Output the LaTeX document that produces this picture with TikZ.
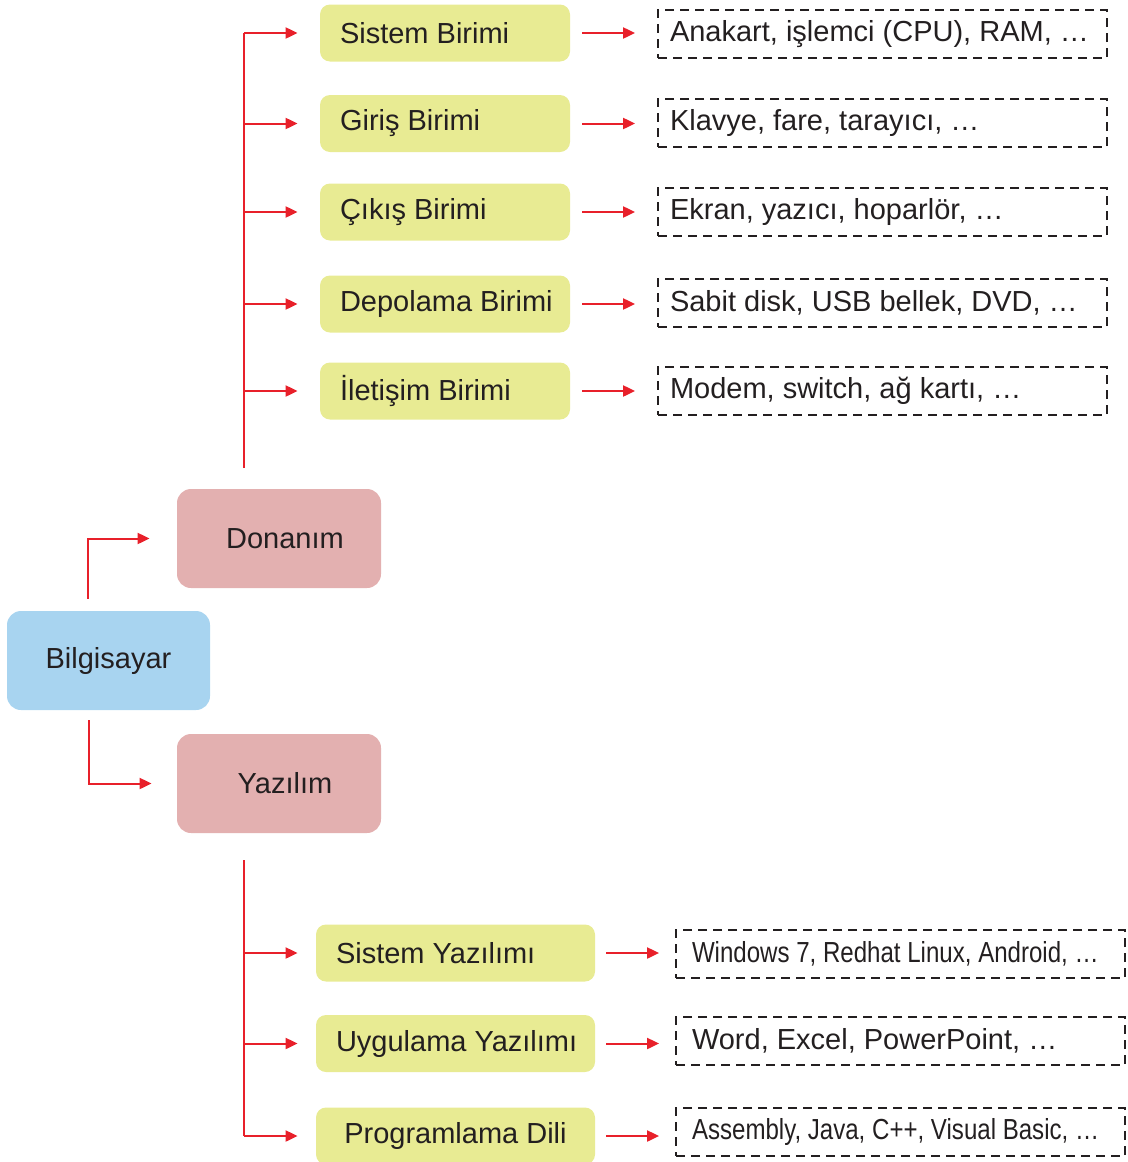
\documentclass[tikz,border=0pt]{standalone}
\usepackage{fontspec}
\setmainfont{Liberation Sans}
\newfontfamily\narrowfont[FakeStretch=0.83]{Liberation Sans}
\usepackage{xcolor}
\usetikzlibrary{arrows.meta,positioning,calc}
\definecolor{boxblue}{HTML}{A8D4F0}
\definecolor{boxpink}{HTML}{E3B0B0}
\definecolor{boxgreen}{HTML}{E8EB93}
\definecolor{arrred}{HTML}{E8202A}
\definecolor{txtdark}{HTML}{231F20}
% fixed-width, left-aligned line (no wrapping)
\newcommand{\linetxt}[2]{\makebox[#1][l]{#2}}
\tikzset{
  rootbox/.style={fill=boxblue, rounded corners=7pt, minimum width=101.5pt, minimum height=49.5pt, inner sep=0pt, text=txtdark},
  mainbox/.style={fill=boxpink, rounded corners=7pt, minimum width=102pt, minimum height=49.5pt, inner sep=0pt, text=txtdark, execute at begin node={\hspace*{6pt}}},
  unitbox/.style={fill=boxgreen, rounded corners=5pt, minimum width=125pt, minimum height=28.5pt, inner xsep=10pt, inner ysep=0pt, text=txtdark},
  softbox/.style={unitbox, minimum width=139.5pt},
  examplebox/.style={draw=txtdark, line width=0.9pt, dash pattern=on 4.5pt off 3pt, minimum width=224.5pt, minimum height=24pt, inner xsep=6pt, inner ysep=0pt, text=txtdark},
  softexbox/.style={examplebox, inner xsep=8pt},
  redline/.style={draw=arrred, line width=1pt},
  redarrow/.style={redline, -{Triangle[length=6pt,width=5.5pt]}}
}
\begin{document}
\begin{tikzpicture}[x=0.5pt,y=-0.5pt,font=\fontsize{14.5}{17}\selectfont]
\useasboundingbox (0,0) rectangle (1128,1162);
\clip (0,0) rectangle (1128,1162);
% main nodes
\node[rootbox] (bil) at (108.5,660.5) {Bilgisayar};
\node[mainbox] (don) at (279,538.5) {Donanım};
\node[mainbox] (yaz) at (279,783.5) {Yazılım};
% hardware units
\node[unitbox] (sb) at (445,33) {\linetxt{105pt}{Sistem Birimi}};
\node[unitbox] (gb) at (445,123.5) {\linetxt{105pt}{Giriş Birimi}};
\node[unitbox] (cb) at (445,212) {\linetxt{105pt}{Çıkış Birimi}};
\node[unitbox] (db) at (445,304) {\linetxt{105pt}{Depolama Birimi}};
\node[unitbox] (ib) at (445,391) {\linetxt{105pt}{İletişim Birimi}};
\node[examplebox] (sbx) at (882.5,34) {\linetxt{212.5pt}{Anakart, işlemci (CPU), RAM, …}};
\node[examplebox] (gbx) at (882.5,123) {\linetxt{212.5pt}{Klavye, fare, tarayıcı, …}};
\node[examplebox] (cbx) at (882.5,212) {\linetxt{212.5pt}{Ekran, yazıcı, hoparlör, …}};
\node[examplebox] (dbx) at (882.5,303) {\linetxt{212.5pt}{Sabit disk, USB bellek, DVD, …}};
\node[examplebox] (ibx) at (882.5,391) {\linetxt{212.5pt}{Modem, switch, ağ kartı, …}};
% software units
\node[softbox] (sy) at (455.5,953) {\linetxt{119.5pt}{Sistem Yazılımı}};
\node[softbox] (uy) at (455.5,1043.5) {\linetxt{119.5pt}{Uygulama Yazılımı}};
\node[softbox] (pd) at (455.5,1136) {Programlama Dili};
\node[softexbox] (syx) at (900.5,954) {\linetxt{208.5pt}{\narrowfont Windows 7, Redhat Linux, Android, …}};
\node[softexbox] (uyx) at (900.5,1041) {\linetxt{208.5pt}{Word, Excel, PowerPoint, …}};
\node[softexbox] (pdx) at (900.5,1132) {\linetxt{208.5pt}{\narrowfont Assembly, Java, C++, Visual Basic, …}};
% connectors
\coordinate (hwbot) at (244,468);
\coordinate (swtop) at (244,860);
\draw[redarrow, shorten <=6pt, shorten >=13.5pt] ([xshift=-10.25pt]bil.north) |- (don.west);
\draw[redarrow, shorten <=5pt, shorten >=12.5pt] ([xshift=-9.75pt]bil.south) |- (yaz.west);
\draw[redline] (hwbot) -- (sb.west -| hwbot);
\draw[redline] (swtop) -- (pd.west -| swtop);
\foreach \u in {sb,gb,cb,db,ib} {
  \draw[redarrow, shorten >=11pt] (\u.west -| hwbot) -- (\u.west);
  \draw[redarrow, shorten <=6pt, shorten >=11pt] (\u.east) -- (\u.east -| \u x.west);
}
\foreach \u in {sy,uy,pd} {
  \draw[redarrow, shorten >=9pt] (\u.west -| swtop) -- (\u.west);
  \draw[redarrow, shorten <=5.5pt, shorten >=8pt] (\u.east) -- (\u.east -| \u x.west);
}
\end{tikzpicture}
\end{document}
